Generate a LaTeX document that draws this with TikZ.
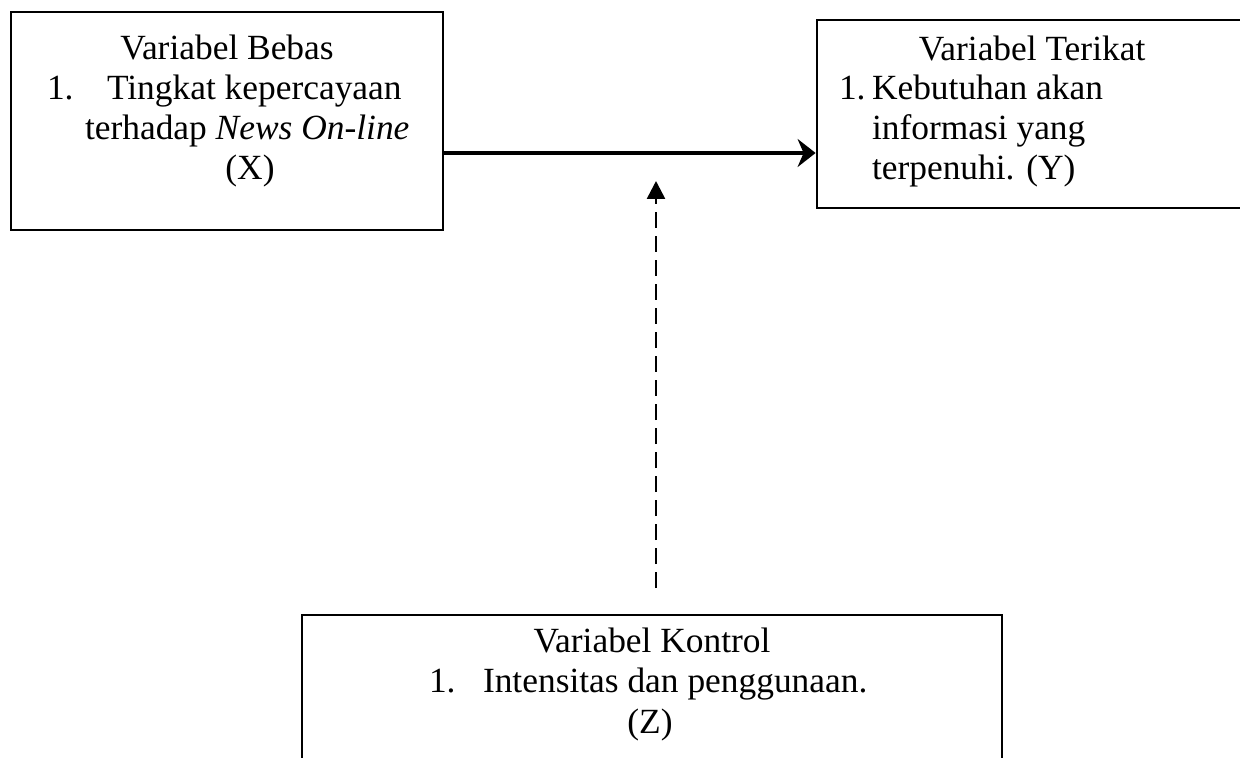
\documentclass[tikz,border=0pt]{standalone}
\usepackage{fontspec}
\setmainfont{Liberation Serif}
\usetikzlibrary{arrows.meta}
\begin{document}
\begin{tikzpicture}[x=0.5pt,y=-0.5pt,
  box/.style={draw=black, line width=1.4pt, inner sep=0pt, fill=none},
  txt/.style={inner sep=0pt, outer sep=0pt, font=\fontsize{17.7pt}{20pt}\selectfont},
  mainarrow/.style={line width=2.2pt, -{Stealth[length=9pt,width=14pt,inset=3pt]}},
  ctrlarrow/.style={line width=1.3pt, dash pattern=on 8pt off 4pt, -{Triangle[length=9pt,width=9pt]}}]
\useasboundingbox (0,0) rectangle (1240,758);
\clip (0,0) rectangle (1240,758);
\fill[white] (0,0) rectangle (1240,758);
% boxes
\node[box, minimum width=216pt, minimum height=109pt] (bx) at (227,121) {};
\node[box, minimum width=221.5pt, minimum height=94pt] (by) at (1038.5,114) {};
\node[box, minimum width=350pt, minimum height=85pt] (bz) at (652,700) {};
% texts box X
\node[txt, anchor=base] (x1) at (227,60) {Variabel Bebas};
\node[txt, anchor=base west] (x2n) at (47,100) {1.};
\node[txt, anchor=base west] (x2) at (107,100) {Tingkat kepercayaan};
\node[txt, anchor=base west] (x3) at (85,140) {terhadap \textit{News On-line}};
\node[txt, anchor=base] (x4) at (250,180) {(X)};
% texts box Y
\node[txt, anchor=base] (y1) at (1032,61) {Variabel Terikat};
\node[txt, anchor=base west] (y2n) at (839,100) {1.};
\node[txt, anchor=base west] (y2) at (872,100) {Kebutuhan akan};
\node[txt, anchor=base west] (y3) at (872,140) {informasi yang};
\node[txt, anchor=base west] (y4) at (872,180) {terpenuhi. (Y)};
% texts box Z
\node[txt, anchor=base] (z1) at (652,652) {Variabel Kontrol};
\node[txt, anchor=base west] (z2n) at (429,692) {1.};
\node[txt, anchor=base west] (z2) at (483,692) {Intensitas dan penggunaan.};
\node[txt, anchor=base] (z3) at (650,733) {(Z)};
% connectors
\draw[mainarrow] ([yshift=-16pt]bx.east) -- ([yshift=-16pt]bx.east -| by.west);
\coordinate (dstart) at (656,588);
\coordinate (dend) at (656,181);
\draw[ctrlarrow] (dstart) -- (dend);
\end{tikzpicture}
\end{document}
